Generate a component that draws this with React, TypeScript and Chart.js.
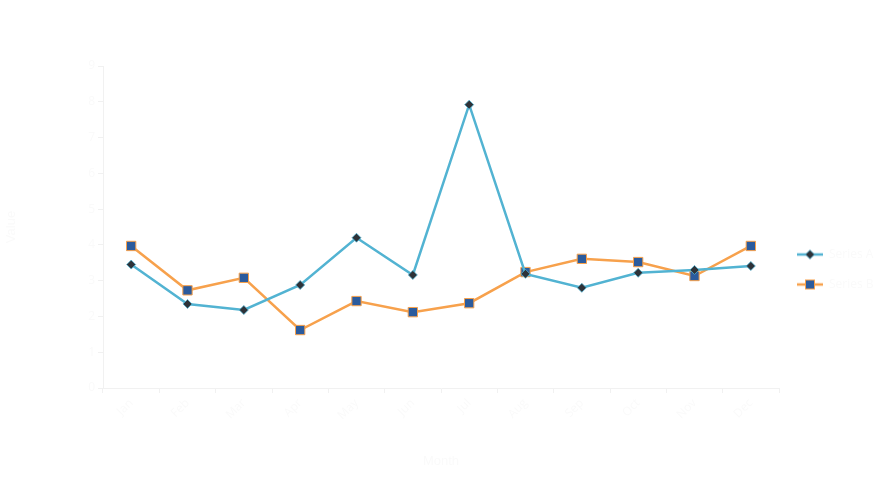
import React, { useEffect, useRef } from "react";
import { Chart, registerables } from "chart.js";

Chart.register(...registerables);

const categories = ["Jan", "Feb", "Mar", "Apr", "May", "Jun", "Jul", "Aug", "Sep", "Oct", "Nov", "Dec"];
const seriesAName = "Series A";
const seriesBName = "Series B";
const seriesA = [3.45, 2.35, 2.18, 2.88, 4.2, 3.16, 7.92, 3.19, 2.8, 3.22, 3.3, 3.41];
const seriesB = [3.97, 2.73, 3.08, 1.62, 2.43, 2.12, 2.37, 3.24, 3.61, 3.52, 3.13, 3.97];
const yTicks = [0, 1, 2, 3, 4, 5, 6, 7, 8, 9];

const BLUE = "#52b3d2";
const ORANGE = "#f7a14c";
const DARK = "#2e3238";
const NAVY = "#2b5b9d";
const FAINT = "#fafafa";
const AXIS = "#f1f1f1";

function makeIcon(kind: "diamond" | "square"): HTMLCanvasElement {
  const c = document.createElement("canvas");
  c.width = 28;
  c.height = 12;
  const ctx = c.getContext("2d")!;
  ctx.lineWidth = 2.5;
  ctx.strokeStyle = kind === "diamond" ? BLUE : ORANGE;
  ctx.beginPath();
  ctx.moveTo(1, 6);
  ctx.lineTo(27, 6);
  ctx.stroke();
  if (kind === "diamond") {
    ctx.fillStyle = DARK;
    ctx.strokeStyle = BLUE;
    ctx.lineWidth = 0.8;
    ctx.beginPath();
    ctx.moveTo(14, 1.5);
    ctx.lineTo(18.5, 6);
    ctx.lineTo(14, 10.5);
    ctx.lineTo(9.5, 6);
    ctx.closePath();
    ctx.fill();
    ctx.stroke();
  } else {
    ctx.fillStyle = NAVY;
    ctx.strokeStyle = ORANGE;
    ctx.lineWidth = 1;
    ctx.fillRect(9.5, 1.5, 9, 9);
    ctx.strokeRect(9.5, 1.5, 9, 9);
  }
  return c;
}

export default function App() {
  const ref = useRef<HTMLCanvasElement | null>(null);

  useEffect(() => {
    document.body.style.margin = "0";
    const icons = [makeIcon("diamond"), makeIcon("square")];
    const chart = new Chart(ref.current!, {
      type: "line",
      data: {
        labels: categories,
        datasets: [
          {
            label: seriesAName,
            data: seriesA,
            borderColor: BLUE,
            borderWidth: 2.5,
            backgroundColor: DARK,
            pointStyle: "rectRot",
            pointRadius: 4.5,
            pointBorderColor: BLUE,
            pointBorderWidth: 0.8,
            pointBackgroundColor: DARK,
            tension: 0,
          },
          {
            label: seriesBName,
            data: seriesB,
            borderColor: ORANGE,
            borderWidth: 2.5,
            backgroundColor: NAVY,
            pointStyle: "rect",
            pointRadius: 6.6,
            pointBorderColor: ORANGE,
            pointBorderWidth: 1,
            pointBackgroundColor: NAVY,
            tension: 0,
          },
        ],
      },
      options: {
        animation: false,
        responsive: true,
        maintainAspectRatio: false,
        layout: { padding: { top: 66, right: 0, bottom: 16, left: 0 } },
        plugins: {
          tooltip: { enabled: false },
          legend: {
            position: "right",
            maxWidth: 104,
            labels: {
              usePointStyle: true,
              pointStyleWidth: 26,
              boxHeight: 12,
              padding: 18,
              color: FAINT,
              font: { size: 12, family: "Open Sans" },
              generateLabels: (ch: any) =>
                ch.data.datasets.map((ds: any, i: number) => ({
                  text: ds.label,
                  fillStyle: "transparent",
                  strokeStyle: "transparent",
                  lineWidth: 0,
                  pointStyle: icons[i],
                  datasetIndex: i,
                  hidden: false,
                  fontColor: FAINT,
                })),
            },
          },
        },
        scales: {
          x: {
            offset: true,
            afterFit: (s: any) => {
              s.height = 85;
            },
            grid: {
              display: true,
              offset: true,
              drawOnChartArea: false,
              drawTicks: true,
              tickLength: 5,
              color: AXIS,
            },
            border: { display: true, color: AXIS },
            ticks: {
              color: FAINT,
              maxRotation: 45,
              minRotation: 45,
              font: { size: 12, family: "Open Sans" },
            },
            title: { display: true, text: "Month", color: FAINT, font: { size: 13 } },
          },
          y: {
            min: 0,
            max: 9,
            afterFit: (s: any) => {
              s.width = 103;
            },
            afterBuildTicks: (s: any) => {
              s.ticks = yTicks.map((v) => ({ value: v }));
            },
            grid: {
              display: true,
              drawOnChartArea: false,
              drawTicks: true,
              tickLength: 5,
              color: AXIS,
            },
            border: { display: true, color: AXIS },
            ticks: { color: FAINT, font: { size: 12, family: "Open Sans" } },
            title: { display: true, text: "Value", color: FAINT, font: { size: 13 } },
          },
        },
      },
    });
    return () => chart.destroy();
  }, []);

  return (
    <div style={{ position: "absolute", left: 0, top: 0, width: 883, height: 489, background: "#ffffff" }}>
      <canvas ref={ref} />
    </div>
  );
}
